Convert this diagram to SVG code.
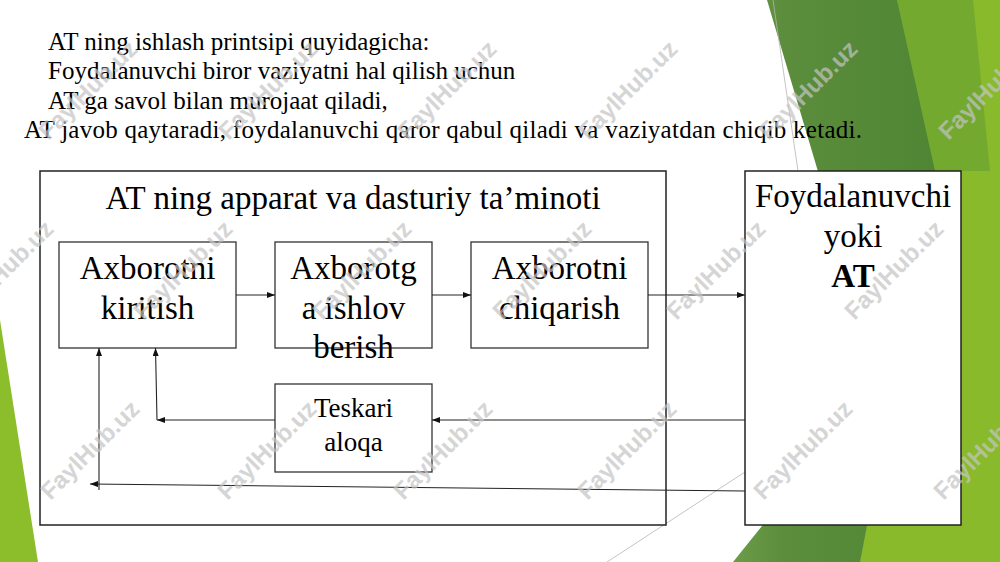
<svg xmlns="http://www.w3.org/2000/svg" width="1000" height="562" viewBox="0 0 1000 562">
<style>
.t{font-family:"Liberation Serif","Times New Roman",serif;fill:#000}
.title{font-size:25px}
.lbl{font-size:33px;text-anchor:middle}
.sm{font-size:27px;text-anchor:middle}
.box{fill:#fff;stroke:#333;stroke-width:1.3}
.outer{fill:#fff;stroke:#222;stroke-width:1.5}
.con{stroke:#222;stroke-width:1.1;fill:none;marker-end:url(#ah)}
.thin{stroke:#b5b5b5;stroke-width:0.8;fill:none}
.wm{font-family:"Liberation Sans",Arial,sans-serif;font-weight:bold;font-size:24px;fill:#c4c4c4;opacity:0.7;text-anchor:middle}
</style>
<defs>
<marker id="ah" markerUnits="userSpaceOnUse" markerWidth="9" markerHeight="7" refX="8" refY="3" orient="auto">
<path d="M0,0 L8,3 L0,6 z" fill="#111"/>
</marker>
<linearGradient id="dg" x1="0" y1="0" x2="1" y2="0">
<stop offset="0" stop-color="#6c9c48"/>
<stop offset="0.25" stop-color="#5b8d3c"/>
<stop offset="1" stop-color="#4f8634"/>
</linearGradient>
</defs>
<rect x="0" y="0" width="1000" height="562" fill="#fff"/>
<g id="decor">
<polygon points="860,0 1000,0 1000,562 845,562" fill="#88ba2b"/>
<polygon points="897,0 973,0 990,171 930,171" fill="#74a92f"/>
<polygon points="767,0 897,0 935,171 860,562 733,562 880,380" fill="url(#dg)"/>
<polygon points="0,320 38,562 0,562" fill="#8cbe2c"/>
<line class="thin" x1="773" y1="0" x2="798" y2="171"/>
<line class="thin" x1="607" y1="562" x2="745" y2="472"/>
</g>
<g id="intro">
<text class="t title" x="48" y="50">AT ning ishlash printsipi quyidagicha:</text>
<text class="t title" x="48" y="79">Foydalanuvchi biror vaziyatni hal qilish uchun</text>
<text class="t title" x="48" y="108.5">AT ga savol bilan murojaat qiladi,</text>
<text class="t title" x="24" y="138" textLength="838" lengthAdjust="spacing">AT javob qaytaradi, foydalanuvchi qaror qabul qiladi va vaziyatdan chiqib ketadi.</text>
</g>
<g id="system">
<rect class="outer" x="40" y="171" width="626" height="354"/>
<text class="t lbl" x="353" y="209">AT ning apparat va dasturiy ta’minoti</text>
</g>
<g id="user">
<rect class="outer" x="745" y="171" width="216" height="354"/>
<text class="t lbl" x="853" y="207">Foydalanuvchi</text>
<text class="t lbl" x="853" y="247">yoki</text>
<text class="t lbl" x="853" y="287" font-weight="bold">AT</text>
</g>
<g id="input">
<rect class="box" x="59" y="242" width="177" height="106"/>
<text class="t lbl" x="147.5" y="279">Axborotni</text>
<text class="t lbl" x="147.5" y="319">kiritish</text>
</g>
<g id="process">
<rect class="box" x="275" y="242" width="157" height="106"/>
<text class="t lbl" x="353.5" y="279">Axborotg</text>
<text class="t lbl" x="353.5" y="319">a ishlov</text>
<text class="t lbl" x="353.5" y="358">berish</text>
</g>
<g id="output">
<rect class="box" x="471" y="242" width="177" height="106"/>
<text class="t lbl" x="559.5" y="279">Axborotni</text>
<text class="t lbl" x="559.5" y="319">chiqarish</text>
</g>
<g id="feedback">
<rect class="box" x="275" y="384" width="157" height="88"/>
<text class="t sm" x="353.5" y="417">Teskari</text>
<text class="t sm" x="353.5" y="451">aloqa</text>
</g>
<g id="connectors">
<line class="con" x1="236" y1="295" x2="275" y2="295"/>
<line class="con" x1="432" y1="295" x2="471" y2="295"/>
<line class="con" x1="648" y1="295" x2="745" y2="295"/>
<line class="con" x1="745" y1="420" x2="432" y2="420"/>
<line class="con" x1="275" y1="420" x2="157" y2="420"/>
<line class="con" x1="157" y1="420" x2="155.5" y2="348"/>
<line class="con" x1="745" y1="491" x2="90" y2="484"/>
<line class="con" x1="99" y1="490" x2="99" y2="348"/>
</g>
<g id="watermarks">
<text class="wm" transform="translate(88,90) rotate(-45)" y="8">FaylHub.uz</text>
<text class="wm" transform="translate(268,90) rotate(-45)" y="8">FaylHub.uz</text>
<text class="wm" transform="translate(447,90) rotate(-45)" y="8">FaylHub.uz</text>
<text class="wm" transform="translate(628,90) rotate(-45)" y="8">FaylHub.uz</text>
<text class="wm" transform="translate(808,90) rotate(-45)" y="8">FaylHub.uz</text>
<text class="wm" transform="translate(988,90) rotate(-45)" y="8">FaylHub.uz</text>
<text class="wm" transform="translate(4,270) rotate(-45)" y="8">FaylHub.uz</text>
<text class="wm" transform="translate(183,270) rotate(-45)" y="8">FaylHub.uz</text>
<text class="wm" transform="translate(362,270) rotate(-45)" y="8">FaylHub.uz</text>
<text class="wm" transform="translate(542,270) rotate(-45)" y="8">FaylHub.uz</text>
<text class="wm" transform="translate(716,270) rotate(-45)" y="8">FaylHub.uz</text>
<text class="wm" transform="translate(894,270) rotate(-45)" y="8">FaylHub.uz</text>
<text class="wm" transform="translate(90,450) rotate(-45)" y="8">FaylHub.uz</text>
<text class="wm" transform="translate(267,450) rotate(-45)" y="8">FaylHub.uz</text>
<text class="wm" transform="translate(443,450) rotate(-45)" y="8">FaylHub.uz</text>
<text class="wm" transform="translate(627,450) rotate(-45)" y="8">FaylHub.uz</text>
<text class="wm" transform="translate(803,450) rotate(-45)" y="8">FaylHub.uz</text>
<text class="wm" transform="translate(983,450) rotate(-45)" y="8">FaylHub.uz</text>
</g>
</svg>
